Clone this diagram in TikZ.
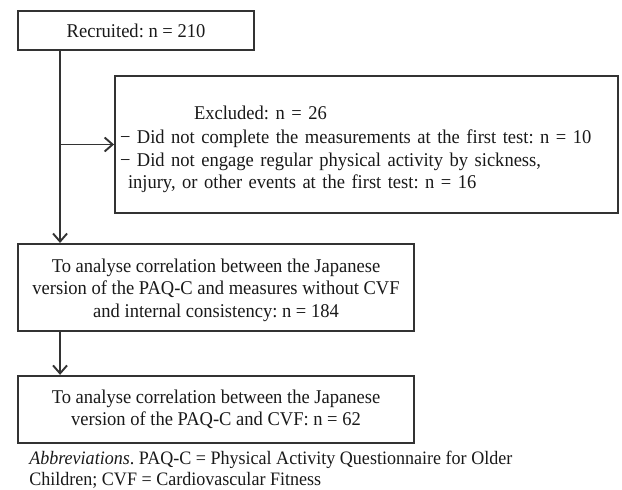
\documentclass[tikz,border=0pt]{standalone}
\usepackage{fontspec}
\setmainfont{Liberation Serif}[FakeStretch=0.95]
\frenchspacing
\usetikzlibrary{positioning,arrows.meta}
\tikzset{
  flowbox/.style={draw=black!80, line width=1.9pt, align=center, font=\fontsize{19.5}{22.7}\selectfont, text=black!90},
  simple flowbox/.style={flowbox, minimum width=396pt, minimum height=87pt, inner sep=0pt},
  note/.style={align=left, font=\fontsize{19}{21}\selectfont, text=black!90, inner sep=0pt},
  flow arrow/.style={draw=black!80, line width=1.9pt, -{Straight Barb[length=8pt,width=14pt,line width=1.9pt]}},
}

\begin{document}
\begin{tikzpicture}
\useasboundingbox (0pt,0pt) rectangle (622pt,-490pt);
% the nodes
\node [flowbox, minimum width=236pt, minimum height=39pt, inner sep=0pt] (recr) at (136pt,-30.5pt) {Recruited: n = 210};
\node [flowbox, minimum width=503pt, minimum height=137pt, text width=493pt, inner xsep=5pt, align=left] (excl) at (366.5pt,-144.5pt)
  {\rule{0pt}{24pt}\hspace*{74pt}Excluded: n = 26\\[1pt]
   − Did not complete the measurements at the first test: n = 10\\
   − Did not engage regular physical activity by sickness,\\
   \hspace*{8pt}injury, or other events at the first test: n = 16};
\node [simple flowbox, below=192pt of recr.south west, anchor=north west] (anaA)
  {\rule{0pt}{19pt}To analyse correlation between the Japanese\\version of the PAQ-C and measures without CVF\\and internal consistency: n = 184};
\node [simple flowbox, minimum height=67pt, below=43pt of anaA] (anaB)
  {To analyse correlation between the Japanese\\version of the PAQ-C and CVF: n = 62};
\node [note, below=7pt of anaB.south west, anchor=north west, xshift=12pt] (abbr)
  {\textit{Abbreviations}. PAQ-C = Physical Activity Questionnaire for Older\\Children; CVF = Cardiovascular Fitness};
%drawings of vectors
\coordinate (trunk) at ([xshift=43pt]recr.south west);
\draw[flow arrow] (trunk) -- (trunk |- anaA.north);
\draw[flow arrow] (trunk |- excl.west) -- (excl.west);

\draw[flow arrow] (trunk |- anaA.south) -- (trunk |- anaB.north);
\end{tikzpicture}
\end{document}
